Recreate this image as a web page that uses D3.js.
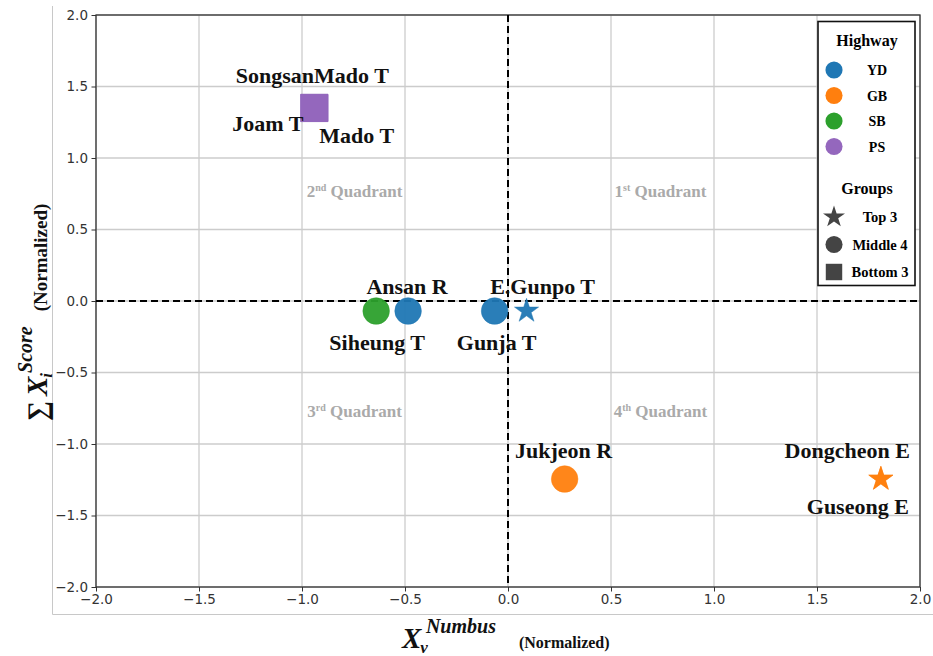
<!DOCTYPE html>
<html>
<head>
<meta charset="utf-8">
<script src="https://cdn.jsdelivr.net/npm/d3@7"></script>
<style>
  html, body { margin: 0; padding: 0; background: #fff; }
  svg { display: block; }
</style>
</head>
<body>
<svg id="chart" width="933" height="656"></svg>
<script>
// ---- data ----
const names   = ["E.Gunpo T", "Dongcheon E", "Guseong E", "Siheung T", "Ansan R", "Gunja T", "Jukjeon R", "SongsanMado T", "Mado T", "Joam T"];
const highway = ["YD", "GB", "GB", "SB", "YD", "YD", "GB", "PS", "PS", "PS"];
const groups  = ["Top 3", "Top 3", "Top 3", "Middle 4", "Middle 4", "Middle 4", "Middle 4", "Bottom 3", "Bottom 3", "Bottom 3"];
const xValues = [0.09, 1.81, 1.81, -0.64, -0.485, -0.065, 0.275, -0.94, -0.94, -0.94];
const yValues = [-0.07, -1.245, -1.245, -0.07, -0.07, -0.07, -1.245, 1.35, 1.35, 1.35];
const highwayNames = ["YD", "GB", "SB", "PS"];
const groupNames = ["Top 3", "Middle 4", "Bottom 3"];
const tickValues = [-2.0, -1.5, -1.0, -0.5, 0.0, 0.5, 1.0, 1.5, 2.0];
const quadNums = ["1", "2", "3", "4"];
const quadSups = ["st", "nd", "rd", "th"];
const quadX = [0.74, -0.745, -0.745, 0.74];
const quadY = [0.725, 0.725, -0.81, -0.81];

// ---- styling / layout ----
const colors = {YD: "#1f77b4", GB: "#ff7f0e", SB: "#2ca02c", PS: "#9467bd"};
const shapes = {"Top 3": d3.symbolStar, "Middle 4": d3.symbolCircle, "Bottom 3": d3.symbolSquare};
const sizes  = {"Top 3": 180, "Middle 4": 555, "Bottom 3": 740};
// label placement: [dx, dy, anchor]
const labelPos = {
  "E.Gunpo T":     [16, -17, "middle"],
  "Dongcheon E":   [29, -21, "end"],
  "Guseong E":     [28, 35, "end"],
  "Siheung T":     [1, 39, "middle"],
  "Ansan R":       [-1, -17, "middle"],
  "Gunja T":       [2, 39, "middle"],
  "Jukjeon R":     [-1, -21, "middle"],
  "SongsanMado T": [-2, -25, "middle"],
  "Mado T":        [5, 35, "start"],
  "Joam T":        [-11, 23, "end"]
};

const serif = "'Liberation Serif', 'Times New Roman', serif";
const sans = "'DejaVu Sans', sans-serif";

const svg = d3.select("#chart");
const L = 96, R = 920, T = 15, B = 587;
const x = d3.scaleLinear().domain([-2, 2]).range([L, R]);
const y = d3.scaleLinear().domain([-2, 2]).range([B, T]);

// outer faint frame
svg.append("line").attr("x1", 52.5).attr("x2", 52.5).attr("y1", 6).attr("y2", 614.5)
  .attr("stroke", "#c8c8c8").attr("stroke-width", 1);
svg.append("line").attr("x1", 52.5).attr("x2", 933).attr("y1", 614.5).attr("y2", 614.5)
  .attr("stroke", "#c8c8c8").attr("stroke-width", 1);

// grid
const grid = svg.append("g");
grid.selectAll(".gx").data(tickValues).join("line")
  .attr("x1", d => x(d)).attr("x2", d => x(d)).attr("y1", T).attr("y2", B)
  .attr("stroke", "#cccccc").attr("stroke-width", 1.3);
grid.selectAll(".gy").data(tickValues).join("line")
  .attr("y1", d => y(d)).attr("y2", d => y(d)).attr("x1", L).attr("x2", R)
  .attr("stroke", "#cccccc").attr("stroke-width", 1.3);

// axes
const fmt = d3.format(".1f");
const xAxis = svg.append("g").attr("transform", `translate(0,${B})`)
  .call(d3.axisBottom(x).tickValues(tickValues).tickFormat(d => fmt(d).replace("-", "\u2212")).tickSize(4.5).tickPadding(3));
const yAxis = svg.append("g").attr("transform", `translate(${L},0)`)
  .call(d3.axisLeft(y).tickValues(tickValues).tickFormat(d => fmt(d).replace("-", "\u2212")).tickSize(4.5).tickPadding(3.5));
[xAxis, yAxis].forEach(a => {
  a.select(".domain").remove();
  a.selectAll(".tick line").attr("stroke", "#333").attr("stroke-width", 1);
  a.selectAll(".tick text").attr("fill", "#333").style("font-family", sans).style("font-size", "13.5px");
});
// spines
svg.append("rect").attr("x", L).attr("y", T).attr("width", R - L).attr("height", B - T)
  .attr("fill", "none").attr("stroke", "#333").attr("stroke-width", 1.3);

// zero lines
svg.append("line").attr("x1", x(0)).attr("x2", x(0)).attr("y1", T).attr("y2", B)
  .attr("stroke", "#000").attr("stroke-width", 2).attr("stroke-dasharray", "7,4");
svg.append("line").attr("x1", L).attr("x2", R).attr("y1", y(0)).attr("y2", y(0))
  .attr("stroke", "#000").attr("stroke-width", 2).attr("stroke-dasharray", "7,4");

// quadrant labels
const quads = quadNums.map((n, i) => ({num: n, sup: quadSups[i], qx: quadX[i], qy: quadY[i]}));
const qt = svg.selectAll(".quad").data(quads).join("text")
  .attr("x", d => x(d.qx))
  .attr("y", d => y(d.qy))
  .attr("text-anchor", "middle")
  .attr("fill", "#aaaaaa")
  .style("font-family", serif).style("font-weight", "bold").style("font-size", "17px");
qt.append("tspan").text(d => d.num);
qt.append("tspan").text(d => d.sup).attr("dy", -6).style("font-size", "10px");
qt.append("tspan").text(" Quadrant").attr("dy", 6);

// points
const pts = names.map((n, i) => ({name: n, hw: highway[i], grp: groups[i], xv: xValues[i], yv: yValues[i]}));
svg.append("g").selectAll("path").data(pts).join("path")
  .attr("transform", d => `translate(${x(d.xv)},${y(d.yv)})`)
  .attr("d", d => d3.symbol().type(shapes[d.grp]).size(sizes[d.grp])())
  .attr("fill", d => colors[d.hw])
  .attr("fill-opacity", 0.95)
  .attr("stroke", d => colors[d.hw]).attr("stroke-opacity", 0.5).attr("stroke-width", 1)
  .attr("stroke-linejoin", "round");

// point labels
svg.append("g").selectAll("text").data(pts).join("text")
  .attr("x", d => x(d.xv) + labelPos[d.name][0])
  .attr("y", d => y(d.yv) + labelPos[d.name][1])
  .attr("text-anchor", d => labelPos[d.name][2])
  .attr("fill", "#111")
  .style("font-family", serif).style("font-weight", "bold").style("font-size", "22px")
  .text(d => d.name);

// legend
const lg = svg.append("g");
lg.append("rect").attr("x", 818).attr("y", 21.5).attr("width", 97).attr("height", 264)
  .attr("fill", "#fff").attr("stroke", "#111").attr("stroke-width", 1.6);
lg.append("text").attr("x", 867).attr("y", 46).attr("text-anchor", "middle")
  .style("font-family", serif).style("font-weight", "bold").style("font-size", "16px").text("Highway");
highwayNames.forEach((h, i) => {
  const cy = 70 + i * 25.5;
  lg.append("path").attr("transform", `translate(834,${cy})`)
    .attr("d", d3.symbol().type(d3.symbolCircle).size(230)()).attr("fill", colors[h]);
  lg.append("text").attr("x", 877).attr("y", cy + 5).attr("text-anchor", "middle")
    .style("font-family", serif).style("font-weight", "bold").style("font-size", "14px").text(h);
});
lg.append("text").attr("x", 867).attr("y", 194).attr("text-anchor", "middle")
  .style("font-family", serif).style("font-weight", "bold").style("font-size", "16px").text("Groups");
const gsz = {"Top 3": 150, "Middle 4": 230, "Bottom 3": 270};
groupNames.forEach((g, i) => {
  const cy = 217 + i * 27.5;
  lg.append("path").attr("transform", `translate(834,${cy})`)
    .attr("d", d3.symbol().type(shapes[g]).size(gsz[g])()).attr("fill", "#444");
  lg.append("text").attr("x", 880).attr("y", cy + 5).attr("text-anchor", "middle")
    .style("font-family", serif).style("font-weight", "bold").style("font-size", "14.5px").text(g);
});

// x axis label
const xl = svg.append("text").attr("x", 402).attr("y", 648)
  .style("font-family", serif).style("font-weight", "bold").attr("fill", "#111");
xl.append("tspan").text("X").style("font-style", "italic").style("font-size", "29px");
xl.append("tspan").text("v").style("font-style", "italic").style("font-size", "17px").attr("dx", -1).attr("dy", 5);
xl.append("tspan").text("Numbus").style("font-style", "italic").style("font-size", "20px").attr("dx", -2).attr("dy", -20);
xl.append("tspan").text("(Normalized)").style("font-size", "16px").attr("dx", 23).attr("dy", 15);

// y axis label
const yl = svg.append("text").attr("transform", "translate(47,421) rotate(-90)")
  .attr("text-anchor", "start")
  .style("font-family", serif).style("font-weight", "bold").attr("fill", "#111");
yl.append("tspan").text("\u2211").style("font-size", "28px");
yl.append("tspan").text("X").style("font-style", "italic").style("font-size", "29px").attr("dx", 5);
yl.append("tspan").text("i").style("font-style", "italic").style("font-size", "17px").attr("dx", -1).attr("dy", 5);
yl.append("tspan").text("Score").style("font-style", "italic").style("font-size", "20px").attr("dx", 0).attr("dy", -20);
yl.append("tspan").text("(Normalized)").style("font-size", "19px").attr("dx", 15).attr("dy", 15);
</script>
</body>
</html>
